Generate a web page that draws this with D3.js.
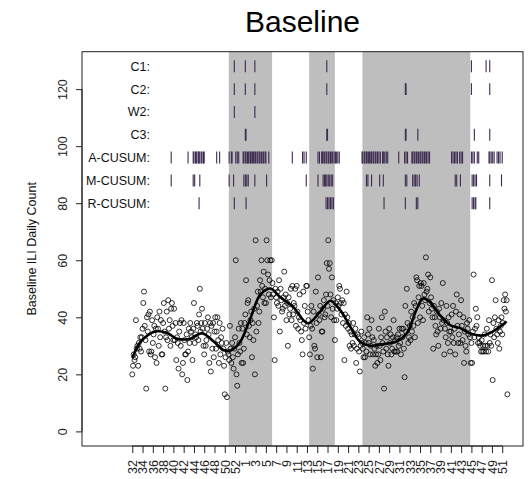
<!DOCTYPE html>
<html>
<head>
<meta charset="utf-8">
<script src="https://cdn.jsdelivr.net/npm/d3@7"></script>
<style>
body{margin:0;background:#fff}
svg{display:block;font-family:"Liberation Sans",Arial,sans-serif}
</style>
</head>
<body>
<div id="chart"></div>
<script>
// daily counts, day 0 = start of week 32
const countsA = [20,23,27,25,26,39,29,30,23,31,29,33,28,33,36,45,49,37,32,15,40,35,41,28,42,27,28,39,31,34,37,26,36,24,40,36,30,42,33,39,27,27,38,45,35,15,33,42,32,46,36,39,30,43,45,37]
const countsB = [32,43,32,38,25,33,31,22,35,38,30,39,20,24,38,32,27,27,34,18,28,36,31,38,35,33,25,36,45,31,34,33,38,37,32,41,50,35,38,43,36,30,27,38,30,32,36,40,34,24,38,21,37,29,38,26]
const countsC = [35,40,29,35,40,32,24,38,27,33,31,36,29,23,13,26,31,12,28,27,25,37,29,24,31,26,22,29,33,60,20,16,27,36,31,28,38,24,36,24,29,38,41,53,34,45,46,37,33,39,42,26,38,32,43,20]
const countsD = [67,35,44,49,38,42,53,49,60,51,47,56,45,50,45,67,60,55,48,53,60,47,60,52,48,40,25,50,47,45,49,44,53,35,50,46,42,43,47,56,44,48,39,45,30,47,41,43,50,39,51,41,45,44,50,37]
const countsE = [51,42,36,40,48,39,35,32,27,49,38,44,36,51,51,42,39,33,27,37,44,36,22,42,30,29,49,38,26,54,41,39,44,26,35,35,43,46,40,41,48,59,44,67,57,59,48,40,54,43,46,39,32,45,39,43]
const countsF = [47,44,51,50,45,41,46,38,45,25,41,37,49,40,36,38,30,35,29,34,31,38,30,34,36,24,29,34,33,28,21,30,35,31,29,26,33,26,31,28,40,34,31,36,27,30,39,33,27,32,29,23,27,30,24,27]
const countsG = [36,30,25,33,40,31,28,15,42,35,29,33,27,23,36,31,34,27,29,33,39,28,32,28,33,28,34,30,36,31,27,36,33,36,29,19,44,35,50,38,31,33,37,32,42,35,40,37,45,33,44,54,53,38,47,51]
const countsH = [40,52,51,44,39,52,48,46,61,49,50,55,42,45,54,47,43,40,29,44,40,37,34,42,35,30,43,40,36,45,38,52,39,27,36,33,44,38,31,40,35,28,35,41,33,44,31,36,27,42,48,37,31,34,41,31]
const countsI = [46,37,32,40,24,35,30,28,38,36,34,39,33,24,31,24,35,55,33,36,43,37,40,31,33,31,30,28,32,28,30,28,34,30,28,36,30,28,39,31,34,30,53,18,38,33,40,46,36,34,31,39,29,35,37,40]
const countsJ = [34,38,46,43,48,42,46,13]

// smoothed curve
const smoothDay = [0,10,20,31,47,60,78,95,111,124,133,146,160,174,188,201,219,239,256,270,283,297,310,323,342,360,374,387,396,405,419,433,447,460,476,491,510]
const smoothVal = [25.7,31,33.5,35,34.6,32.6,32.4,34.4,31.5,28.6,28.3,31,39,47.8,50.1,47.2,43.7,37.9,42,45.8,42.6,36.7,31.5,30,30.6,31.5,34.4,42.6,46.6,45.5,40.8,37.3,36.2,34.4,33.6,35,38.5]

// week labels on the x axis (every two weeks)
const weekLabels = [32,34,36,38,40,42,44,46,48,50,52,1,3,5,7,9,11,13,15,17,19,21,23,25,27,29,31,33,35,37,39,41,43,45,47,49,51]
const yTicks = [0,20,40,60,80,100,120]

// shaded periods (days)
const shadeStart = [131.5, 241, 313.5]
const shadeEnd = [190.5, 276, 460.5]

// alarm days per method
const alarmNames = ["C1:", "C2:", "W2:", "C3:", "A-CUSUM:", "M-CUSUM:", "R-CUSUM:"]
const alarmC1 = [139,154,167,265,462,482,487]
const alarmC2 = [139,154,167,265,372,373,462,487]
const alarmW2 = [139,167]
const alarmC3 = [154,155,265,266,372,373,389,466,487]
const alarmA = [53,76,83,84,86,87,88,90,91,92,94,95,97,98,115,119,132,135,136,141,143,145,151,152,154,155,157,158,159,161,162,164,165,167,168,170,171,173,174,176,178,179,181,182,186,218,232,234,237,253,255,258,259,261,262,264,265,267,268,270,271,273,275,277,278,280,282,313,314,316,317,319,320,322,323,325,326,328,329,331,332,334,336,338,341,342,344,346,348,363,371,373,375,381,382,384,385,387,388,390,392,393,395,396,398,400,401,403,405,435,437,439,441,443,446,448,450,462,464,466,470,472,486,487,489,491,493,497,499,501,504]
const alarmM = [53,83,85,92,132,138,152,154,156,158,167,183,237,253,260,262,263,265,267,269,271,273,319,321,326,337,342,372,374,382,384,386,388,391,440,442,447,463,465,467,469,487,503]
const alarmR = [91,139,155,264,266,268,270,272,274,343,372,387,389,463,465,467,468,487]

drawChart()

function drawChart(){
    const W = 529, H = 479
    const box = {left: 82, right: 523, top: 51.7, bottom: 446}

    const counts = [].concat(countsA, countsB, countsC, countsD, countsE, countsF, countsG, countsH, countsI, countsJ)
    const alarms = [alarmC1, alarmC2, alarmW2, alarmC3, alarmA, alarmM, alarmR]

    const svg = d3.select("#chart").append("svg")
        .attr("width", W)
        .attr("height", H)

    const x = d3.scaleLinear().domain([-68.5, 532.3]).range([box.left, box.right])
    const y = d3.scaleLinear().domain([-5.12, 133.12]).range([box.bottom, box.top])

    // title
    svg.append("text")
        .attr("x", (box.left + box.right) / 2)
        .attr("y", 32)
        .attr("text-anchor", "middle")
        .style("font-size", "30px")
        .text("Baseline")

    // shaded periods
    svg.append("g")
        .selectAll("rect")
        .data(shadeStart)
        .enter()
        .append("rect")
        .attr("x", d => x(d))
        .attr("width", (d, i) => x(shadeEnd[i]) - x(d))
        .attr("y", box.top)
        .attr("height", box.bottom - box.top)
        .attr("fill", "#bebebe")

    // points
    svg.append("g")
        .selectAll("circle")
        .data(counts)
        .enter()
        .append("circle")
        .attr("cx", (d, i) => x(i))
        .attr("cy", d => y(d))
        .attr("r", 2.5)
        .attr("fill", "none")
        .attr("stroke", "#000")
        .attr("stroke-width", 0.8)

    // smooth line
    const line = d3.line()
        .x((d, i) => x(smoothDay[i]))
        .y(d => y(d))
        .curve(d3.curveCatmullRom.alpha(0.5))
    svg.append("path")
        .datum(smoothVal)
        .attr("d", line)
        .attr("fill", "none")
        .attr("stroke", "#000")
        .attr("stroke-width", 2.6)

    // alarm rows
    const rows = svg.append("g")
    alarmNames.forEach((name, k) => {
        const level = 128 - 8 * k
        rows.append("text")
            .attr("x", 150)
            .attr("y", y(level) + 4.5)
            .attr("text-anchor", "end")
            .style("font-size", "12.5px")
            .attr("fill", "#111")
            .text(name)
        rows.append("g")
            .selectAll("line")
            .data(alarms[k])
            .enter()
            .append("line")
            .attr("x1", d => x(d))
            .attr("x2", d => x(d))
            .attr("y1", y(level + 2.1))
            .attr("y2", y(level - 2.1))
            .attr("stroke", "#3b2a4f")
            .attr("stroke-width", 1.1)
    })

    // frame
    svg.append("rect")
        .attr("x", box.left)
        .attr("y", box.top)
        .attr("width", box.right - box.left)
        .attr("height", box.bottom - box.top)
        .attr("fill", "none")
        .attr("stroke", "#222")
        .attr("stroke-width", 1)

    // y axis
    const yAxis = svg.append("g")
        .attr("transform", "translate(" + box.left + ",0)")
        .call(d3.axisLeft(y).tickValues(yTicks).tickSize(6).tickSizeOuter(0))
    yAxis.select(".domain")
        .attr("d", "M0," + y(0) + "V" + y(120))
        .attr("stroke", "#222")
    yAxis.selectAll(".tick line").attr("stroke", "#222")
    yAxis.selectAll(".tick text")
        .attr("transform", "rotate(-90)")
        .attr("x", 0)
        .attr("y", -15)
        .attr("dy", 0)
        .attr("text-anchor", "middle")
        .attr("fill", "#222")
        .style("font-size", "12.5px")
        .style("font-family", "'Liberation Sans',Arial,sans-serif")

    // x axis
    const tickDays = weekLabels.map((w, i) => i * 14)
    const xAxis = svg.append("g")
        .attr("transform", "translate(0," + box.bottom + ")")
        .call(d3.axisBottom(x).tickValues(tickDays).tickFormat((d, i) => weekLabels[i]).tickSize(7).tickSizeOuter(0))
    xAxis.select(".domain")
        .attr("d", "M" + x(tickDays[0]) + ",0H" + x(tickDays[tickDays.length - 1]))
        .attr("stroke", "#222")
    xAxis.selectAll(".tick line").attr("stroke", "#222")
    xAxis.selectAll(".tick text")
        .attr("transform", "rotate(-90)")
        .attr("x", -14)
        .attr("y", 4.3)
        .attr("dy", 0)
        .attr("text-anchor", "end")
        .attr("fill", "#222")
        .style("font-size", "12.5px")
        .style("font-family", "'Liberation Sans',Arial,sans-serif")

    // y axis title
    svg.append("text")
        .attr("transform", "translate(35.5," + (box.top + box.bottom) / 2 + ") rotate(-90)")
        .attr("text-anchor", "middle")
        .style("font-size", "12.5px")
        .attr("fill", "#111")
        .text("Baseline ILI Daily Count")
}
</script>
</body>
</html>
